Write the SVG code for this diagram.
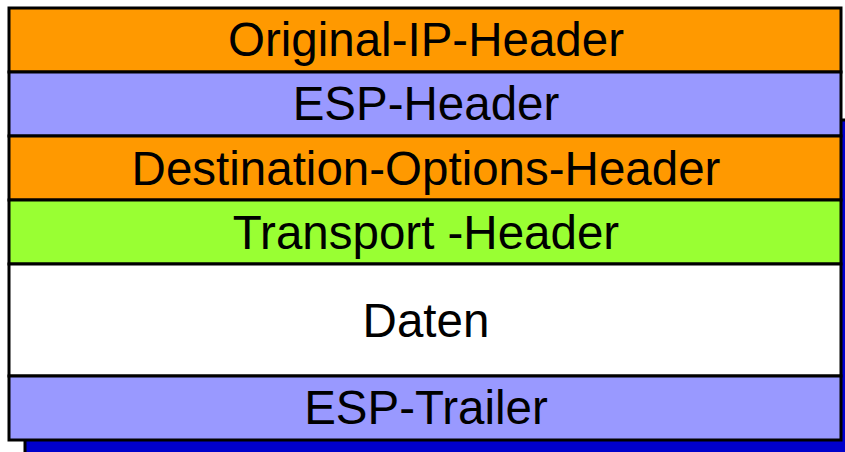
<svg xmlns="http://www.w3.org/2000/svg" width="845" height="452" viewBox="0 0 845 452">
<style>
.row{stroke:#000;stroke-width:3}
.t{font-family:"Liberation Sans",Arial,sans-serif;font-size:47.5px;fill:#000;text-anchor:middle}
</style>
<rect width="845" height="452" fill="#fff"/>
<rect id="shadow" x="25" y="120" width="840" height="342" fill="#0000CC" stroke="#000" stroke-width="3"/>
<g id="orig"><rect class="row" x="9" y="8" width="832" height="64" fill="#FF9900"/><text class="t" x="426" y="56">Original-IP-Header</text></g>
<g id="esp"><rect class="row" x="9" y="72" width="832" height="64" fill="#9999FF"/><text class="t" x="426" y="120">ESP-Header</text></g>
<g id="dest"><rect class="row" x="9" y="136" width="832" height="64" fill="#FF9900"/><text class="t" x="426" y="185">Destination-Options-Header</text></g>
<g id="transport"><rect class="row" x="9" y="200" width="832" height="64" fill="#99FF33"/><text class="t" x="426" y="249">Transport -Header</text></g>
<g id="daten"><rect class="row" x="9" y="264" width="832" height="112" fill="#FFFFFF"/><text class="t" x="426" y="337">Daten</text></g>
<g id="trailer"><rect class="row" x="9" y="376" width="832" height="64" fill="#9999FF"/><text class="t" x="426" y="424">ESP-Trailer</text></g>
<g id="connectors"/>
</svg>
